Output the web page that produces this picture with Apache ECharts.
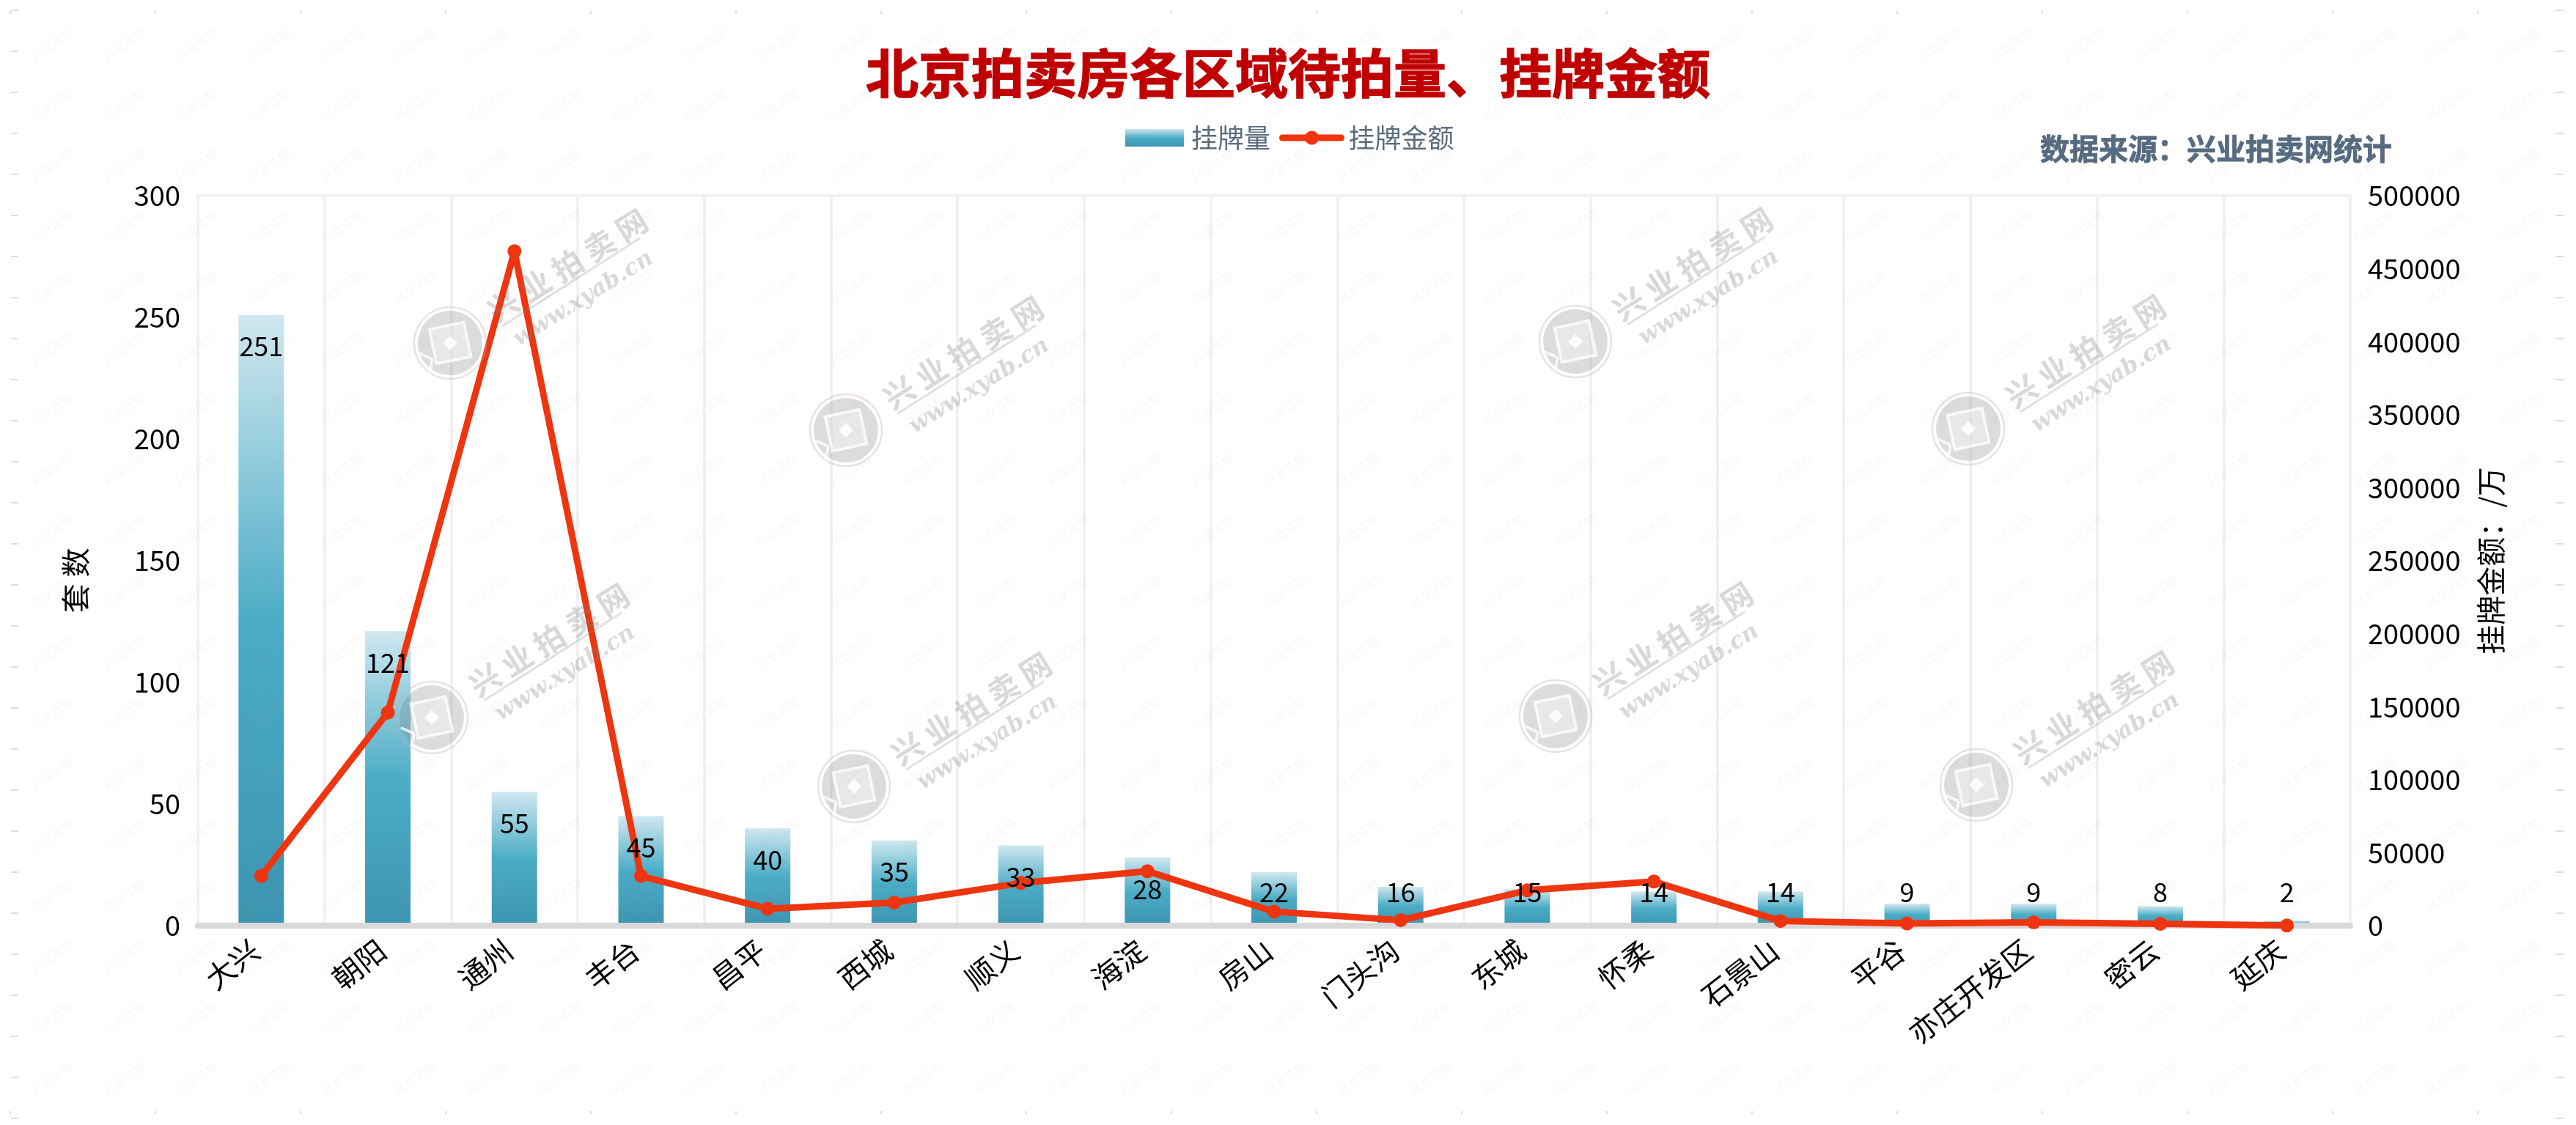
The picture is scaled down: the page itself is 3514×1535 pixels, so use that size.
<!DOCTYPE html>
<html>
<head>
<meta charset="utf-8">
<style>html,body{margin:0;padding:0;background:#fff}#c{width:3514px;height:1535px}</style>
<script src="https://cdn.jsdelivr.net/npm/echarts@6/dist/echarts.min.js"></script>
</head>
<body>
<div id="c"></div>
<script>
const categories = ['大兴','朝阳','通州','丰台','昌平','西城','顺义','海淀','房山','门头沟','东城','怀柔','石景山','平谷','亦庄开发区','密云','延庆'];
const listingCount = [251,121,55,45,40,35,33,28,22,16,15,14,14,9,9,8,2];
const listingAmount = [34000,146000,462000,34000,11600,15800,29200,37300,9600,3700,24200,30200,3200,1500,2300,1300,150];
const wmSpots = [[614,468],[1154,587],[589,979],[1165,1073],[2149,466],[2685,585],[2122,977],[2696,1071]];

const FONT = '"Noto Sans CJK SC","Noto Sans",sans-serif';
const chart = echarts.init(document.getElementById('c'));
const deg = d => d * Math.PI / 180;

const graphics = [];
// faint repeating watermark
for (let y = 60; y < 1535; y += 83) {
  for (let x = 70; x < 3514; x += 99) {
    graphics.push({type:'text', x, y, rotation:deg(35), z:100, silent:true,
      style:{text:'兴业法拍', font:'16px '+FONT, fill:'rgba(190,165,165,0.10)', align:'center', verticalAlign:'middle'}});
  }
}
// edge ticks
const tickCol = '#dddddd';
for (let x = 14; x < 3514; x += 198) {
  graphics.push({type:'rect', z:100, silent:true, shape:{x:x-1,y:15,width:2,height:4}, style:{fill:tickCol}});
  graphics.push({type:'rect', z:100, silent:true, shape:{x:x-1,y:1516,width:2,height:4}, style:{fill:tickCol}});
}
for (let y = 14; y < 1535; y += 56) {
  graphics.push({type:'rect', z:100, silent:true, shape:{x:15,y:y-1,width:10,height:2}, style:{fill:tickCol}});
  graphics.push({type:'rect', z:100, silent:true, shape:{x:3486,y:y-1,width:11,height:2}, style:{fill:tickCol}});
}
// large watermarks: coin and site name
wmSpots.forEach(([x,y]) => {
  graphics.push({type:'group', x, y, z:101, silent:true, children:[
    {type:'circle', z:101, shape:{cx:0,cy:0,r:49}, style:{fill:'none', stroke:'rgba(200,170,170,0.35)', lineWidth:2.5}},
    {type:'circle', z:101, shape:{cx:0,cy:0,r:44}, style:{fill:'rgba(130,130,130,0.28)'}},
    {type:'rect', z:102, rotation:deg(12), shape:{x:-24,y:-24,width:48,height:48}, style:{fill:'rgba(255,255,255,0.35)', stroke:'rgba(255,255,255,0.75)', lineWidth:4}},
    {type:'polygon', z:103, shape:{points:[[-10,0],[0,-10],[10,0],[0,10]]}, style:{fill:'rgba(255,255,255,0.85)'}},
    {type:'line', z:102, shape:{x1:-42,y1:14,x2:-24,y2:22}, style:{stroke:'rgba(255,255,255,0.75)', lineWidth:4}},
    {type:'line', z:102, shape:{x1:-24,y1:22,x2:-28,y2:40}, style:{stroke:'rgba(255,255,255,0.75)', lineWidth:4}},
    {type:'group', x:160, y:-106, rotation:deg(32), z:101, children:[
      {type:'text', z:101, x:0, y:0, style:{text:'兴 业 拍 卖 网', font:'bold 42px '+FONT, fill:'rgba(130,130,130,0.30)', align:'center', verticalAlign:'middle'}}
    ]},
    {type:'line', z:101, shape:{x1:71,y1:-23,x2:259,y2:-143}, style:{stroke:'rgba(130,130,130,0.25)', lineWidth:3}},
    {type:'group', x:182, y:-60, rotation:deg(32), z:101, children:[
      {type:'text', z:101, x:0, y:0, style:{text:'www.xyab.cn', font:'italic bold 31px "DejaVu Serif",serif', fill:'rgba(130,130,130,0.30)', align:'center', verticalAlign:'middle'}}
    ]}
  ]});
});

const barGradient = new echarts.graphic.LinearGradient(0,0,0,1,[
  {offset:0, color:'#d0e8f0'},
  {offset:0.5, color:'#4bacc6'},
  {offset:1, color:'#3d95b0'}
]);
const labelItems = listingCount.map(v => ({
  value: v,
  label: v >= 27 ? {position:'insideTop', distance:25} : {position:'insideBottom', distance:28}
}));
const axisText = {color:'#000', fontFamily:FONT, fontSize:38};
const plainNumber = v => String(v);

chart.setOption({
  animation:false,
  backgroundColor:'#fff',
  textStyle:{fontFamily:FONT},
  title:[
    {text:'北京拍卖房各区域待拍量、挂牌金额', left:'center', top:64, padding:0,
     textStyle:{color:'#c00000', fontSize:72, fontWeight:'bold', fontFamily:FONT, textBorderColor:'#c00000', textBorderWidth:1.5}},
    {text:'数据来源：兴业拍卖网统计', left:2783, top:183, padding:0,
     textStyle:{color:'#566a80', fontSize:40, fontWeight:'bold', fontFamily:FONT, textBorderColor:'#566a80', textBorderWidth:0.8}}
  ],
  legend:{
    data:[{name:'挂牌量', icon:'rect'},{name:'挂牌金额'}], left:1535, top:170, padding:0,
    itemWidth:80, itemHeight:24, itemGap:12,
    lineStyle:{width:9, cap:'round'},
    textStyle:{color:'#5b6b7d', fontSize:36, fontFamily:FONT, padding:[0,0,0,5]}
  },
  grid:{left:270, right:308, top:267, bottom:272, show:true, borderColor:'#f1f1f1', borderWidth:4, backgroundColor:'transparent', containLabel:false},
  xAxis:{
    type:'category', data:categories, z:3,
    axisTick:{show:false},
    axisLine:{lineStyle:{color:'#d9d9d9', width:8}},
    axisLabel:{...axisText, fontSize:40, rotate:38, interval:0, margin:22, padding:[0,10,0,0]},
    splitLine:{show:true, interval:0, lineStyle:{color:'#f1f1f1', width:4}}
  },
  yAxis:[
    {type:'value', min:0, max:300, interval:50, name:'套 数', nameLocation:'middle', nameGap:147, nameRotate:90,
     nameTextStyle:{color:'#000', fontSize:40, fontFamily:FONT, padding:[0,54,0,0]},
     axisLine:{show:false}, axisTick:{show:false}, splitLine:{show:false},
     axisLabel:{...axisText, margin:24, formatter:plainNumber}},
    {type:'value', min:0, max:500000, interval:50000, name:'挂牌金额：/万', nameLocation:'middle', nameGap:172, nameRotate:90,
     nameTextStyle:{color:'#000', fontSize:40, fontFamily:FONT},
     axisLine:{show:false}, axisTick:{show:false}, splitLine:{show:false},
     axisLabel:{...axisText, margin:24, formatter:plainNumber}}
  ],
  series:[
    {name:'挂牌量', type:'bar', z:2, barWidth:62, data:listingCount, itemStyle:{color:barGradient}, silent:true},
    {name:'挂牌金额', type:'line', z:4, yAxisIndex:1, data:listingAmount, symbol:'circle', symbolSize:19,
     itemStyle:{color:'#ee3510'}, lineStyle:{color:'#ee3510', width:9, cap:'round'}, silent:true},
    {name:'套数标注', type:'bar', z:6, barWidth:62, barGap:'-100%', data:labelItems,
     itemStyle:{color:'rgba(0,0,0,0)'}, silent:true,
     label:{show:true, color:'#000', fontSize:36, fontFamily:FONT}}
  ],
  graphic:{elements:graphics}
});
</script>
</body>
</html>
